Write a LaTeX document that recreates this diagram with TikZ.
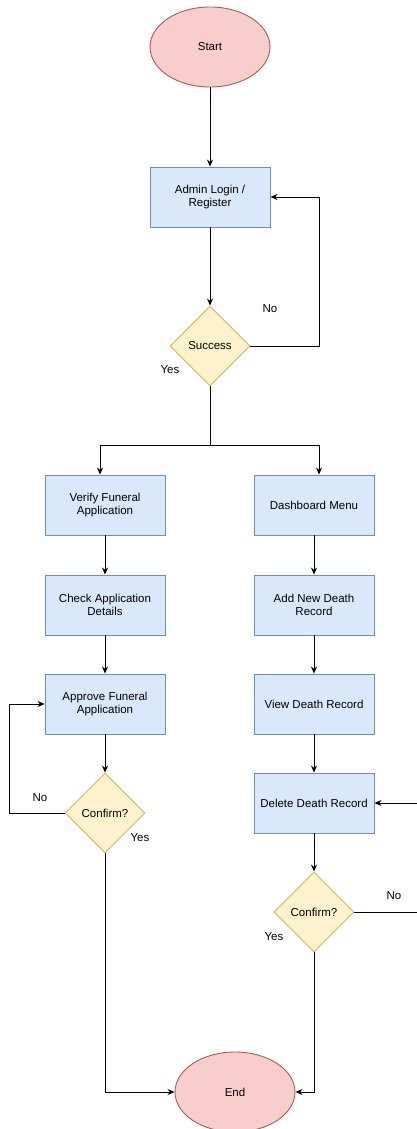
\documentclass[tikz,border=0pt]{standalone}
\usepackage{fontspec}
\setmainfont{Liberation Sans}
\usetikzlibrary{positioning,shapes.geometric,arrows.meta,calc}
\definecolor{rougeFill}{HTML}{F8CECC}
\definecolor{rougeLine}{HTML}{B85450}
\definecolor{bleuFill}{HTML}{DAE8FC}
\definecolor{bleuLine}{HTML}{6C8EBF}
\definecolor{jauneFill}{HTML}{FFF2CC}
\definecolor{jauneLine}{HTML}{D6B656}

\begin{document}
\begin{tikzpicture}[
    x=1pt, y=-1pt,
    every node/.style={font=\fontsize{11.5}{13.5}\selectfont},
    term/.style={ellipse, draw=rougeLine, fill=rougeFill, line width=0.9pt, minimum width=120pt, minimum height=80pt, inner sep=0pt},
    box/.style={draw=bleuLine, fill=bleuFill, line width=0.9pt, minimum width=120pt, minimum height=60pt, align=center, inner sep=2pt},
    decision/.style={diamond, draw=jauneLine, fill=jauneFill, line width=0.9pt, minimum width=80pt, minimum height=80pt, inner sep=0pt, aspect=1},
    arr/.style={-{Stealth[length=7pt,width=6pt]}, line width=0.9pt},
    lbl/.style={inner sep=0pt}
]
\useasboundingbox (0,0) rectangle (416,1129);

% Start and login
\node[term] (start) at (210,47) {Start};
\node[box] (login) at (210,197) {Admin Login /\\Register};
\node[decision] (success) at (210,346) {Success};
\coordinate (split) at (210,445);

\draw[arr] (start) -- (login);
\draw[arr] (login) -- (success);
\draw[arr] (success.east) -- ++(69,0) |- (login.east);
\node[lbl] at (270,309) {No};
\node[lbl] at (170,370) {Yes};

% Left branch
\node[box] (verify) at (105,505) {Verify Funeral\\Application};
\node[box] (check) at (105,605) {Check Application\\Details};
\node[box] (approve) at (105,704) {Approve Funeral\\Application};
\node[decision] (confirmL) at (105,813) {Confirm?};

% Right branch
\node[box] (dash) at (314,505) {Dashboard Menu};
\node[box] (add) at (314,605) {Add New Death\\Record};
\node[box] (view) at (314,704) {View Death Record};
\node[box] (delete) at (314,803) {Delete Death Record};
\node[decision] (confirmR) at (314,912) {Confirm?};

% End
\node[term] (end) at (235,1092) {End};

\draw[line width=0.9pt] (success) -- (split);
\draw[arr] (split) -| ($(verify.north)+(-5,0)$);
\draw[arr] (split) -| ($(dash.north)+(5,0)$);

\draw[arr] (verify) -- (check);
\draw[arr] (check) -- (approve);
\draw[arr] (approve) -- (confirmL);
\draw[arr] (confirmL.west) -- ++(-55,0) |- (approve.west);
\node[lbl] at (40,798) {No};
\node[lbl] at (140,838) {Yes};
\draw[arr] (confirmL.south) |- (end.west);

\draw[arr] (dash) -- (add);
\draw[arr] (add) -- (view);
\draw[arr] (view) -- (delete);
\draw[arr] (delete) -- (confirmR);
\draw[arr] (confirmR.east) -- ++(80,0) |- (delete.east);
\node[lbl] at (394,896) {No};
\node[lbl] at (274,937) {Yes};
\draw[arr] (confirmR.south) |- (end.east);
\end{tikzpicture}
\end{document}
